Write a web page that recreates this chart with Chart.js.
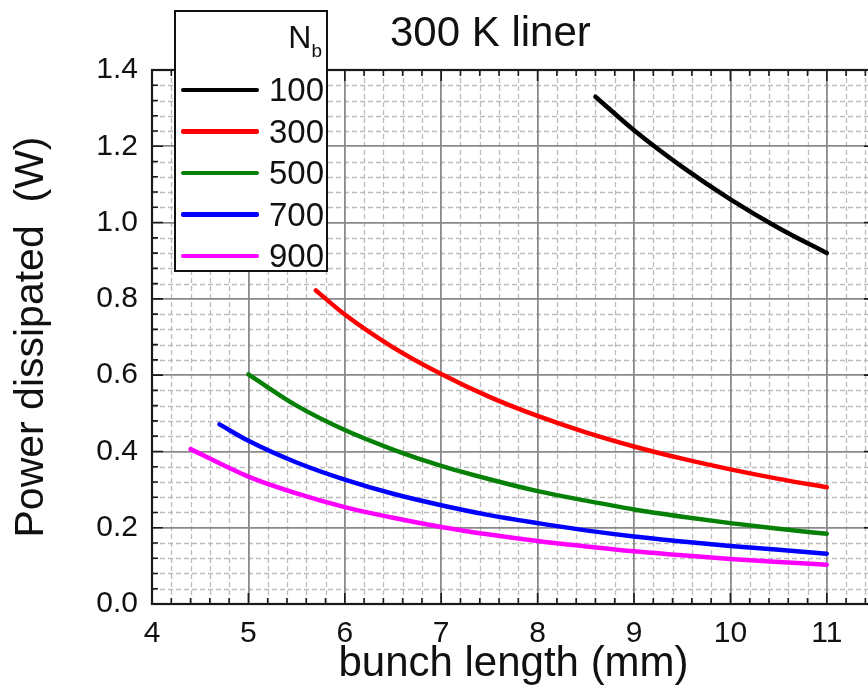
<!DOCTYPE html>
<html lang="en">
<head>
  <meta charset="UTF-8" />
  <title>300 K liner</title>
  <script src="https://cdn.jsdelivr.net/npm/chart.js"></script>
  <style>
    html, body {
      margin: 0;
      padding: 0;
      background: #fff;
      overflow: hidden;
    }
    body {
      font-family: "Liberation Sans", Arial, sans-serif;
      color: #111;
    }
    .wrap {
      position: relative;
      width: 910px;
      height: 699px;
    }
    #chart {
      position: absolute;
      left: 0;
      top: 0;
    }
    .title {
      position: absolute;
      left: 390px;
      top: 11px;
      font-size: 42px;
      line-height: 42px;
      white-space: nowrap;
    }
    .legend {
      position: absolute;
      left: 174px;
      top: 10px;
      width: 150px;
      height: 258px;
      border: 2px solid #111;
      background: #fff;
    }
    .legend .head {
      position: absolute;
      right: 4px;
      top: 9px;
      font-size: 32px;
      line-height: 32px;
    }
    .legend .head sub {
      font-size: 19px;
      vertical-align: -9px;
      line-height: 0;
    }
    .legend .rows {
      position: absolute;
      left: 0;
      right: 0;
      top: 57px;
    }
    .legend .row {
      display: flex;
      align-items: center;
      height: 41.5px;
    }
    .legend .swatch {
      display: inline-block;
      width: 78px;
      height: 4.5px;
      border-radius: 2px;
      margin-left: 5px;
    }
    .legend .lab {
      margin-left: auto;
      padding-right: 2px;
      font-size: 33px;
      line-height: 33px;
    }
  </style>
</head>
<body>
  <div class="wrap">
    <canvas id="chart" width="910" height="699"></canvas>
    <div class="title">300 K liner</div>
    <div class="legend">
      <div class="head">N<sub>b</sub></div>
      <div class="rows" id="legendRows"></div>
    </div>
  </div>

  <script>
    // N_b series
    const nbLabels = ['100', '300', '500', '700', '900'];
    const nbColors = ['#000000', '#ff0000', '#078007', '#0000ff', '#ff00ff'];

    const len100 = [8.6, 9, 9.5, 10, 10.5, 11];
    const pow100 = [1.33, 1.242, 1.146, 1.061, 0.986, 0.92];

    const len300 = [5.7, 6, 6.5, 7, 7.5, 8, 8.5, 9, 9.5, 10, 10.5, 11];
    const pow300 = [0.822, 0.759, 0.673, 0.603, 0.543, 0.493, 0.450, 0.413, 0.381, 0.353, 0.328, 0.306];

    const len500 = [5, 5.5, 6, 6.5, 7, 7.5, 8, 8.5, 9, 9.5, 10, 10.5, 11];
    const pow500 = [0.602, 0.520, 0.456, 0.405, 0.362, 0.327, 0.296, 0.271, 0.248, 0.229, 0.212, 0.197, 0.184];

    const len700 = [4.7, 5, 5.5, 6, 6.5, 7, 7.5, 8, 8.5, 9, 9.5, 10, 10.5, 11];
    const pow700 = [0.471, 0.428, 0.371, 0.326, 0.289, 0.259, 0.233, 0.212, 0.193, 0.177, 0.164, 0.152, 0.142, 0.132];

    const len900 = [4.4, 5, 5.5, 6, 6.5, 7, 7.5, 8, 8.5, 9, 9.5, 10, 10.5, 11];
    const pow900 = [0.406, 0.334, 0.290, 0.254, 0.226, 0.202, 0.182, 0.165, 0.151, 0.138, 0.128, 0.118, 0.110, 0.103];

    const xTicks = [4, 5, 6, 7, 8, 9, 10, 11];
    const yTicks = [0.0, 0.2, 0.4, 0.6, 0.8, 1.0, 1.2, 1.4];

    const allLen = [len100, len300, len500, len700, len900];
    const allPow = [pow100, pow300, pow500, pow700, pow900];

    Chart.defaults.font.family = '"Liberation Sans", Arial, sans-serif';
    Chart.defaults.color = '#111';

    const datasets = nbLabels.map((lab, i) => ({
      label: lab,
      data: allLen[i].map((x, j) => ({ x, y: allPow[i][j] })),
      showLine: true,
      borderColor: nbColors[i],
      backgroundColor: nbColors[i],
      borderWidth: 4.5,
      borderCapStyle: 'round',
      pointRadius: 0,
      cubicInterpolationMode: 'monotone',
      fill: false
    }));

    // legend in html
    const rows = document.getElementById('legendRows');
    nbLabels.forEach((lab, i) => {
      const r = document.createElement('div');
      r.className = 'row';
      r.innerHTML = '<span class="swatch" style="background:' + nbColors[i] + '"></span><span class="lab">' + lab + '</span>';
      rows.appendChild(r);
    });

    // dashed minor grid under everything
    const minorGrid = {
      id: 'minorGrid',
      beforeDraw(chart) {
        const { ctx, chartArea: a, scales: { x, y } } = chart;
        ctx.save();
        ctx.strokeStyle = '#bdbdbd';
        ctx.lineWidth = 1.3;
        ctx.setLineDash([5, 3]);
        for (let i = 0; i * 0.2 <= x.max - x.min + 1e-6; i++) {
          if (i % 5 === 0) continue;
          const px = Math.round(x.getPixelForValue(x.min + i * 0.2)) + 0.5;
          ctx.beginPath(); ctx.moveTo(px, a.top); ctx.lineTo(px, a.bottom); ctx.stroke();
        }
        for (let i = 0; i * 0.04 <= y.max - y.min + 1e-6; i++) {
          if (i % 5 === 0) continue;
          const py = Math.round(y.getPixelForValue(y.min + i * 0.04)) + 0.5;
          ctx.beginPath(); ctx.moveTo(a.left, py); ctx.lineTo(a.right, py); ctx.stroke();
        }
        ctx.restore();
      },
      // frame and inward ticks
      afterDraw(chart) {
        const { ctx, chartArea: a, scales: { x, y } } = chart;
        ctx.save();
        ctx.strokeStyle = '#1a1a1a';
        ctx.lineWidth = 1.6;
        for (let i = 0; i * 0.2 <= x.max - x.min + 1e-6; i++) {
          const px = x.getPixelForValue(x.min + i * 0.2);
          const l = i % 5 === 0 ? 11 : 6;
          ctx.beginPath();
          ctx.moveTo(px, a.bottom); ctx.lineTo(px, a.bottom - l);
          ctx.moveTo(px, a.top); ctx.lineTo(px, a.top + l);
          ctx.stroke();
        }
        for (let i = 0; i * 0.04 <= y.max - y.min + 1e-6; i++) {
          const py = y.getPixelForValue(y.min + i * 0.04);
          const l = i % 5 === 0 ? 11 : 6;
          ctx.beginPath();
          ctx.moveTo(a.left, py); ctx.lineTo(a.left + l, py);
          ctx.moveTo(a.right, py); ctx.lineTo(a.right - l, py);
          ctx.stroke();
        }
        ctx.lineWidth = 2.2;
        ctx.strokeRect(a.left, a.top, a.right - a.left, a.bottom - a.top);
        ctx.restore();
      }
    };

    new Chart(document.getElementById('chart'), {
      type: 'scatter',
      data: { datasets },
      plugins: [minorGrid],
      options: {
        responsive: false,
        animation: false,
        layout: { padding: { top: 70, right: 35, left: 0, bottom: 0 } },
        plugins: {
          legend: { display: false },
          tooltip: { enabled: false }
        },
        scales: {
          x: {
            type: 'linear',
            min: 4,
            max: 11.5,
            afterFit: s => { s.height = 95; },
            afterBuildTicks: s => { s.ticks = xTicks.map(v => ({ value: v })); },
            ticks: {
              includeBounds: false,
              padding: 12,
              font: { size: 30 },
              color: '#111',
              callback: v => String(v)
            },
            grid: {
              color: '#8a8a8a',
              lineWidth: 1.8,
              drawTicks: false
            },
            border: { display: false },
            title: {
              display: true,
              text: 'bunch length (mm)',
              font: { size: 42 },
              color: '#111',
              padding: { top: 0, bottom: 9 }
            }
          },
          y: {
            min: 0,
            max: 1.4,
            afterFit: s => { s.width = 152; },
            afterBuildTicks: s => { s.ticks = yTicks.map(v => ({ value: v })); },
            ticks: {
              padding: 14,
              font: { size: 30 },
              color: '#111',
              callback: v => v.toFixed(1)
            },
            grid: {
              color: '#8a8a8a',
              lineWidth: 1.8,
              drawTicks: false
            },
            border: { display: false },
            title: {
              display: true,
              text: 'Power dissipated  (W)',
              font: { size: 41 },
              color: '#111',
              padding: { top: 7, bottom: 0 }
            }
          }
        }
      }
    });
  </script>
</body>
</html>
